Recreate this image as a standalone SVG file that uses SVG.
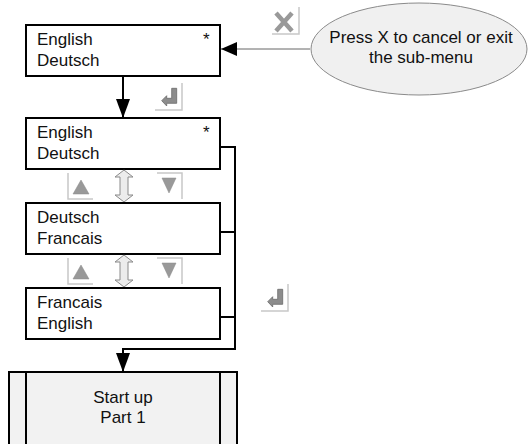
<svg xmlns="http://www.w3.org/2000/svg" width="528" height="444" viewBox="0 0 528 444">
<defs>
<style>
text{font-family:"Liberation Sans",Arial,sans-serif;font-size:17px;fill:#111}
.box{fill:#fff;stroke:#000;stroke-width:2}
.conn{fill:none;stroke:#000;stroke-width:2}
.frame{fill:none;stroke:#c8c8c8;stroke-width:1.5}
.tri{fill:#999;stroke:#8a8a8a;stroke-width:0.5}
.dbl{fill:#ececec;stroke:#8a8a8a;stroke-width:1}
.enter{fill:#8c8c8c;stroke:#6a6a6a;stroke-width:0.8}
</style>
<marker id="ah" markerUnits="userSpaceOnUse" markerWidth="19" markerHeight="14" refX="19" refY="7" orient="auto">
<path d="M0,0 L19,7 L0,14 Z" fill="#000"/>
</marker>
<marker id="ah2" markerUnits="userSpaceOnUse" markerWidth="16" markerHeight="14" refX="16" refY="7" orient="auto">
<path d="M0,0 L16,7 L0,14 Z" fill="#000"/>
</marker>
<g id="enterIcon">
<path class="enter" d="M-20.3,-9.3 L-15.3,-14.3 L-15.3,-11.7 L-10.3,-11.7 L-10.3,-21.7 L-5.3,-21.7 L-5.3,-6.7 L-15.3,-6.7 L-15.3,-4 Z"/>
<path class="frame" d="M0,-27 V0 H-27"/>
</g>
<g id="upIcon">
<path class="frame" d="M0,0 V26 H25"/>
<path class="tri" d="M5,21 L21,21 L13,7 Z"/>
</g>
<g id="downIcon">
<path class="frame" d="M0,0 H25 V26"/>
<path class="tri" d="M5,5 L19,5 L12,20 Z"/>
</g>
<g id="dblArrow">
<path class="dbl" d="M0,0 L9,7 L4,7 L4,25 L9,25 L0,32 L-9,25 L-4,25 L-4,7 L-9,7 Z"/>
</g>
</defs>

<g id="connectors">
<line x1="310" y1="49" x2="221" y2="49" stroke="#666" stroke-width="1" marker-end="url(#ah2)"/>
<line class="conn" x1="123" y1="76" x2="123" y2="118" marker-end="url(#ah)"/>
<path class="conn" d="M220,147 H235 V349 H123 V372" marker-end="url(#ah)"/>
<line class="conn" x1="220" y1="232" x2="235" y2="232"/>
<line class="conn" x1="220" y1="317" x2="235" y2="317"/>
</g>

<g id="note">
<ellipse cx="419" cy="49" rx="108" ry="46" fill="#f0f0f0" stroke="#8a8a8a" stroke-width="1"/>
<text x="421" y="43" text-anchor="middle">Press X to cancel or exit</text>
<text x="421" y="63" text-anchor="middle">the sub-menu</text>
</g>

<g id="xIcon">
<path d="M276,13 L292,31 M292,13 L276,31" stroke="#999" stroke-width="4.5" fill="none"/>
<path class="frame" d="M299,7 V34 H272"/>
</g>

<g id="menu1">
<rect class="box" x="26" y="25" width="194" height="51"/>
<text x="37" y="45">English</text>
<text x="37" y="66">Deutsch</text>
<text x="203" y="45">*</text>
</g>

<use href="#enterIcon" x="182" y="110"/>

<g id="menu2">
<rect class="box" x="26" y="118" width="194" height="51"/>
<text x="37" y="138">English</text>
<text x="37" y="159">Deutsch</text>
<text x="203" y="138">*</text>
</g>

<g id="nav1">
<use href="#upIcon" x="68" y="173"/>
<use href="#dblArrow" x="124" y="170"/>
<use href="#downIcon" x="157" y="173"/>
</g>

<g id="menu3">
<rect class="box" x="26" y="203" width="194" height="51"/>
<text x="37" y="223">Deutsch</text>
<text x="37" y="244">Francais</text>
</g>

<g id="nav2">
<use href="#upIcon" x="68" y="258"/>
<use href="#dblArrow" x="124" y="255"/>
<use href="#downIcon" x="157" y="258"/>
</g>

<g id="menu4">
<rect class="box" x="26" y="288" width="194" height="51"/>
<text x="37" y="308">Francais</text>
<text x="37" y="329">English</text>
</g>

<use href="#enterIcon" x="288" y="311"/>

<g id="startup">
<rect x="9" y="372" width="228" height="80" fill="#f2f2f2" stroke="#000" stroke-width="2"/>
<line x1="26" y1="372" x2="26" y2="452" stroke="#000" stroke-width="2"/>
<line x1="220" y1="372" x2="220" y2="452" stroke="#000" stroke-width="2"/>
<text x="123" y="403" text-anchor="middle">Start up</text>
<text x="123" y="423" text-anchor="middle">Part 1</text>
</g>
</svg>
